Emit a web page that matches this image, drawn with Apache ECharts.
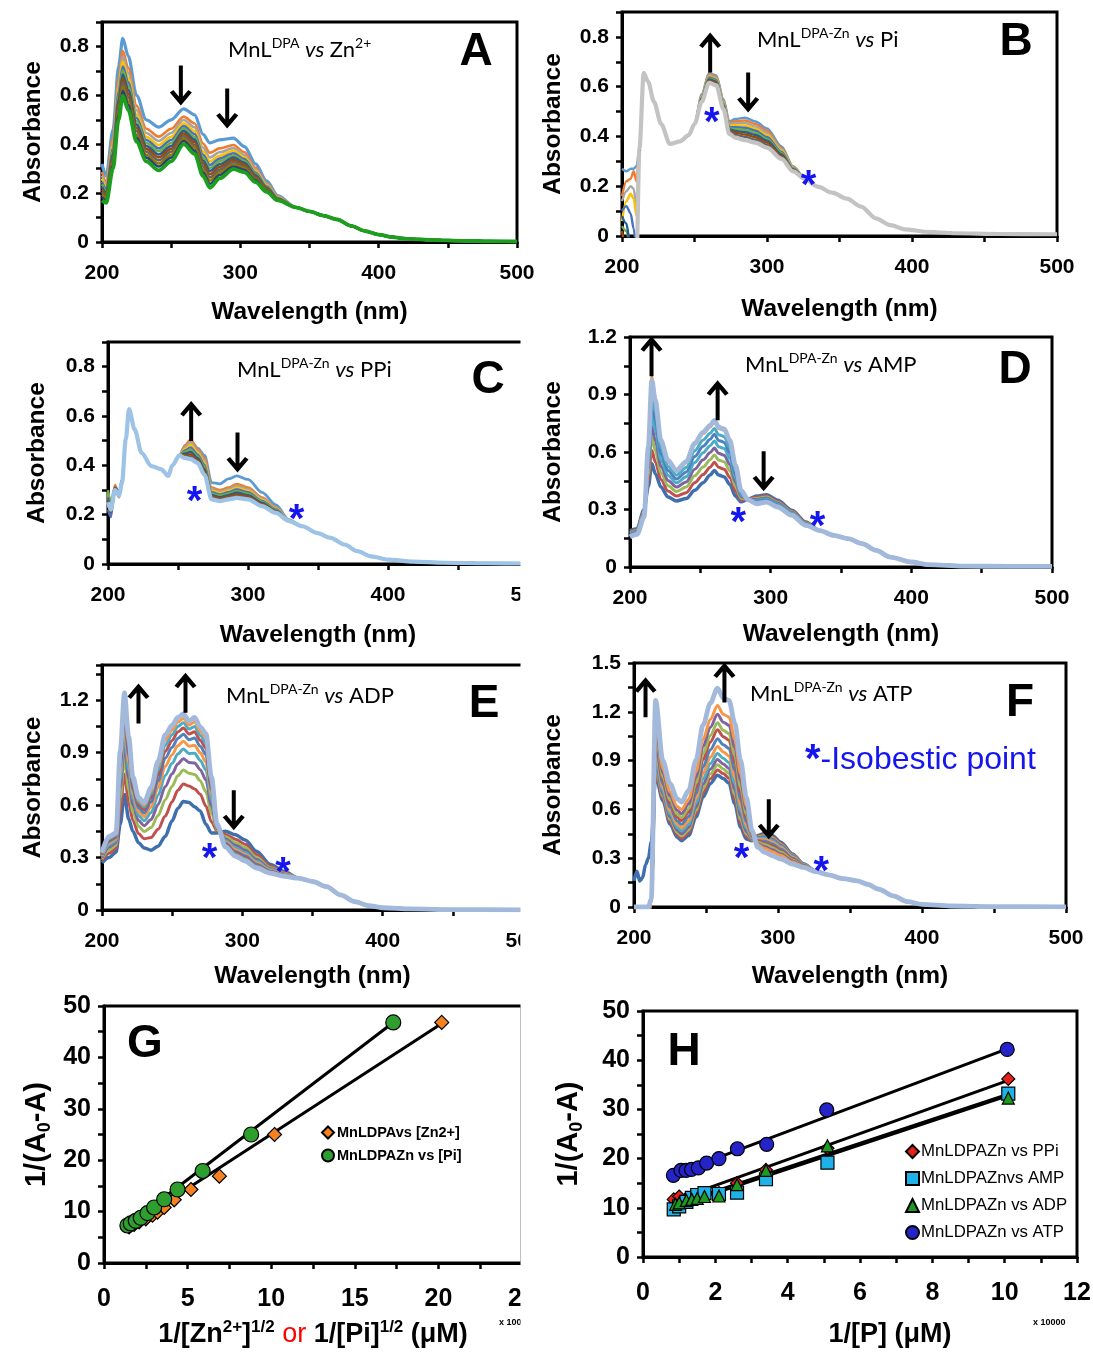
<!DOCTYPE html>
<html>
<head>
<meta charset="utf-8">
<script src="https://cdn.jsdelivr.net/npm/echarts@6/dist/echarts.min.js"></script>
<style>
  html, body { margin: 0; padding: 0; background: #fff; }
  #chart { width: 1093px; height: 1354px; }
</style>
</head>
<body>
<div id="chart"></div>
<script>
// ---------------------------------------------------------------
// UV-vis titration spectra (A-F) and double-reciprocal plots (G-H)
// ---------------------------------------------------------------

// ---- A: MnL(DPA) titrated with Zn2+ (12 spectra, first = top) ----
const A_WL = [200, 203, 208, 212, 215, 219, 225, 232, 241, 250, 259, 267, 273, 278, 285, 295, 303, 311, 319, 327];
const A_TAIL_WL = [340, 350, 360, 370, 380, 390, 400, 410, 420, 440, 460, 480, 500];
const A_TAIL = [0.142, 0.125, 0.108, 0.092, 0.066, 0.045, 0.030, 0.020, 0.013, 0.008, 0.005, 0.003, 0.002];
const A_01 = [.32, .27, .46, .72, .833, .76, .60, .50, .47, .50, .545, .52, .44, .405, .418, .425, .39, .32, .25, .19];
const A_02 = [.287, .246, .425, .672, .781, .712, .558, .463, .431, .463, .513, .485, .403, .365, .383, .397, .367, .304, .240, .186];
const A_03 = [.272, .235, .409, .650, .758, .690, .539, .446, .413, .446, .499, .469, .386, .346, .367, .384, .356, .296, .236, .184];
const A_04 = [.259, .225, .394, .630, .737, .670, .522, .430, .397, .430, .486, .454, .370, .330, .353, .373, .347, .289, .232, .182];
const A_05 = [.247, .216, .382, .612, .718, .652, .507, .417, .383, .417, .474, .442, .357, .315, .341, .363, .339, .283, .228, .180];
const A_06 = [.236, .208, .370, .597, .701, .637, .494, .405, .371, .405, .464, .430, .345, .303, .330, .354, .331, .278, .225, .179];
const A_07 = [.226, .201, .359, .581, .685, .621, .480, .393, .358, .393, .454, .419, .333, .290, .318, .345, .324, .273, .222, .177];
const A_08 = [.215, .193, .348, .566, .669, .606, .467, .381, .346, .381, .444, .408, .321, .277, .307, .336, .317, .268, .219, .176];
const A_09 = [.205, .185, .337, .551, .652, .591, .454, .369, .334, .369, .433, .397, .309, .264, .296, .327, .309, .262, .215, .175];
const A_10 = [.194, .178, .326, .535, .636, .575, .440, .357, .321, .357, .423, .386, .297, .251, .285, .318, .302, .257, .212, .173];
const A_11 = [.184, .170, .314, .520, .619, .560, .427, .345, .309, .345, .413, .374, .285, .238, .274, .309, .294, .252, .209, .172];
const A_12 = [.17, .16, .30, .50, .598, .54, .41, .33, .293, .33, .40, .36, .27, .222, .26, .298, .285, .245, .205, .17];
const A_SET = [A_01, A_02, A_03, A_04, A_05, A_06, A_07, A_08, A_09, A_10, A_11, A_12];

// ---- B: MnL(DPA-Zn) titrated with Pi (10 spectra) ----
const B_HEAD_WL = [200, 203, 206, 208, 210];
const B_MID_WL = [212, 215, 218, 222, 227, 233, 240, 246, 250];
const B_MID = [.35, .655, .62, .54, .45, .37, .38, .405, .45];
const B_VAR_WL = [255, 260, 265, 270, 274, 278, 285, 292, 300, 310, 318, 326];
const B_TAIL_WL = [335, 345, 355, 365, 375, 385, 395, 410, 430, 460, 500];
const B_TAIL = [.198, .174, .15, .118, .071, .044, .027, .017, .011, .008, .007];
const B_HEADS = [
  [.27, .26, .27, .27, .28], [.16, .22, .23, .26, .22], [.14, .18, .20, .19, .12],
  [.06, .14, .17, .15, .08], [.10, .12, .09, .03, -.05], [.04, .02, -.05, -.1, -.1],
  [.08, .05, -.05, -.1, -.1], [.02, -.05, -.1, -.1, -.1], [-.05, -.1, -.1, -.1, -.1],
  [-.1, -.1, -.1, -.1, -.1]
];
const B_VARS = [
  [.57, .655, .645, .55, .46, .47, .475, .46, .432, .36, .28, .232],
  [.566, .650, .640, .545, .454, .461, .464, .450, .423, .354, .278, .232],
  [.563, .646, .636, .541, .449, .453, .454, .440, .414, .349, .275, .232],
  [.560, .641, .631, .536, .443, .445, .444, .431, .406, .343, .273, .231],
  [.557, .637, .627, .532, .438, .437, .435, .423, .398, .338, .271, .231],
  [.554, .633, .623, .528, .433, .430, .426, .414, .390, .333, .269, .231],
  [.551, .629, .619, .524, .428, .422, .417, .406, .383, .328, .267, .231],
  [.548, .625, .615, .520, .423, .415, .408, .397, .375, .323, .265, .231],
  [.544, .621, .611, .516, .417, .406, .398, .387, .366, .317, .263, .230],
  [.54, .615, .605, .51, .41, .395, .385, .375, .355, .31, .26, .23]
];

// ---- C: MnL(DPA-Zn) titrated with PPi (10 spectra) ----
const C_HEAD_WL = [200, 202, 205, 208, 210];
const C_MID_WL = [212.7, 215, 219, 224, 231, 238, 243, 246, 251];
const C_MID = [.505, .628, .546, .45, .397, .384, .357, .40, .44];
const C_VAR_WL = [255, 259, 264, 269, 274, 280, 286, 292, 300, 310, 320, 329];
const C_TAIL_WL = [339, 349, 359, 369, 378, 388, 400, 418, 440, 470, 500];
const C_TAIL = [.153, .126, .106, .079, .052, .031, .018, .0095, .005, .003, .002];
const C_HEADS = [
  [.29, .25, .31, .29, .33], [.27, .23, .32, .28, .34], [.28, .24, .30, .27, .33],
  [.25, .21, .30, .28, .34], [.22, .19, .31, .29, .34], [.30, .24, .31, .28, .33],
  [.26, .22, .30, .29, .34], [.24, .21, .29, .28, .33], [.27, .23, .31, .29, .34],
  [.25, .22, .30, .28, .33]
];
const C_VARS = [
  [.48, .50, .47, .44, .33, .325, .345, .357, .343, .29, .24, .18],
  [.48, .505, .465, .43, .31, .30, .31, .325, .31, .27, .23, .178],
  [.473, .493, .457, .42, .303, .293, .303, .316, .303, .265, .227, .178],
  [.466, .483, .45, .41, .297, .287, .297, .309, .297, .26, .224, .177],
  [.46, .473, .443, .402, .291, .282, .291, .302, .291, .256, .221, .177],
  [.454, .463, .436, .394, .285, .277, .285, .295, .285, .252, .218, .176],
  [.448, .454, .43, .385, .279, .271, .279, .289, .279, .248, .215, .176],
  [.442, .444, .423, .377, .274, .266, .274, .282, .274, .243, .213, .176],
  [.436, .435, .417, .368, .268, .260, .268, .275, .268, .239, .210, .175],
  [.43, .425, .41, .36, .262, .255, .262, .268, .262, .235, .207, .175]
];

// ---- D: MnL(DPA-Zn) titrated with AMP (9 spectra, first = lowest at 260 nm) ----
const D_WL = [200, 205, 210, 213, 215.5, 218, 222, 227, 233, 240, 246, 252, 257, 260, 263, 267, 271, 275, 279, 284, 290, 297, 305, 315, 325];
const D_TAIL_WL = [335, 345, 355, 365, 375, 385, 400, 412, 437, 470, 500];
const D_TAIL = [.19, .165, .148, .122, .087, .052, .026, .012, .005, .003, .003];
const D_1 = [.19, .20, .30, .42, .54, .487, .417, .365, .345, .357, .40, .44, .48, .504, .48, .47, .43, .37, .34, .355, .37, .377, .348, .296, .235];
const D_2 = [.185, .195, .294, .453, .609, .548, .456, .396, .37, .388, .439, .482, .521, .546, .52, .51, .467, .396, .35, .354, .364, .371, .342, .292, .232];
const D_3 = [.18, .191, .288, .484, .675, .606, .492, .424, .394, .417, .476, .522, .56, .585, .558, .548, .501, .42, .359, .353, .358, .365, .337, .288, .229];
const D_4 = [.175, .186, .282, .513, .735, .659, .526, .451, .417, .444, .51, .559, .597, .621, .593, .583, .534, .442, .367, .353, .352, .36, .332, .284, .227];
const D_5 = [.171, .182, .276, .542, .796, .713, .56, .478, .439, .471, .545, .596, .633, .658, .628, .618, .566, .464, .375, .352, .346, .355, .327, .281, .224];
const D_6 = [.166, .178, .271, .568, .852, .763, .592, .503, .459, .496, .576, .63, .666, .692, .66, .65, .596, .485, .383, .351, .341, .35, .323, .277, .222];
const D_7 = [.162, .175, .266, .593, .905, .809, .621, .525, .479, .519, .606, .662, .698, .723, .69, .68, .623, .504, .39, .351, .336, .345, .319, .274, .22];
const D_8 = [.158, .171, .261, .62, .99, .859, .653, .55, .499, .544, .638, .696, .731, .757, .723, .713, .653, .525, .398, .35, .331, .34, .314, .271, .218];
const D_9 = [.157, .17, .26, .626, .974, .87, .66, .556, .504, .55, .645, .704, .739, .765, .73, .72, .66, .53, .40, .35, .33, .339, .313, .27, .217];
const D_SET = [D_1, D_2, D_3, D_4, D_5, D_6, D_7, D_8, D_9];

// ---- E: MnL(DPA-Zn) titrated with ADP (11 spectra) ----
const E_WL = [200, 205, 210, 213, 216, 219, 222, 226, 230, 235, 240, 245, 250, 254, 258, 262, 266, 270, 274, 278, 282, 288, 295, 302, 310, 320, 330];
const E_TAIL_WL = [340, 350, 360, 370, 380, 390, 400, 420, 450, 500];
const E_TAIL = [.182, .163, .134, .086, .048, .025, .013, .006, .002, .001];
const E_1 = [.27, .30, .33, .49, .66, .52, .45, .385, .355, .342, .365, .42, .51, .58, .62, .615, .59, .566, .49, .44, .44, .45, .43, .40, .336, .26, .22];
const E_2 = [.282, .324, .352, .574, .776, .614, .512, .437, .407, .414, .462, .536, .619, .684, .72, .708, .692, .662, .594, .504, .45, .432, .405, .376, .317, .25, .214];
const E_3 = [.292, .343, .37, .641, .869, .689, .562, .478, .448, .471, .54, .629, .707, .767, .80, .782, .774, .739, .676, .555, .458, .418, .386, .357, .301, .242, .21];
const E_4 = [.299, .359, .384, .696, .944, .75, .602, .511, .482, .517, .603, .704, .778, .835, .865, .843, .84, .802, .744, .597, .465, .406, .37, .341, .289, .236, .206];
const E_5 = [.306, .372, .396, .742, 1.008, .802, .636, .54, .51, .557, .656, .768, .838, .892, .92, .894, .896, .855, .801, .632, .47, .396, .356, .328, .278, .231, .203];
const E_6 = [.311, .383, .406, .78, 1.06, .844, .664, .563, .534, .589, .70, .82, .887, .939, .965, .936, .942, .898, .847, .661, .475, .388, .345, .317, .27, .226, .201];
const E_7 = [.316, .392, .415, .813, 1.107, .882, .689, .584, .554, .618, .738, .867, .93, .98, 1.005, .973, .983, .936, .889, .686, .479, .381, .335, .308, .262, .222, .198];
const E_8 = [.32, .401, .422, .843, 1.147, .915, .71, .602, .573, .643, .772, .907, .969, 1.017, 1.04, 1.006, 1.018, .97, .925, .709, .482, .374, .327, .299, .255, .219, .196];
const E_9 = [.324, .408, .429, .868, 1.182, .943, .729, .617, .588, .664, .802, .942, 1.001, 1.048, 1.07, 1.034, 1.049, .999, .956, .728, .485, .369, .319, .292, .25, .216, .195];
const E_10 = [.327, .414, .435, .889, 1.211, .967, .745, .63, .601, .682, .826, .971, 1.029, 1.074, 1.095, 1.057, 1.075, 1.023, .982, .744, .488, .364, .313, .286, .245, .213, .193];
const E_11 = [.33, .42, .44, .91, 1.24, .99, .76, .643, .614, .70, .85, 1.0, 1.056, 1.10, 1.12, 1.08, 1.10, 1.047, 1.008, .76, .49, .36, .307, .28, .24, .211, .192];
const E_SET = [E_1, E_2, E_3, E_4, E_5, E_6, E_7, E_8, E_9, E_10, E_11];

// ---- F: MnL(DPA-Zn) titrated with ATP (12 spectra) ----
const F_HEAD_WL = [200, 202, 204, 206, 208, 210, 212];
const F_HEAD_FIRST = [.16, .22, .16, .18, .26, .30, .40];
const F_HEAD_REST = [-.05, -.05, -.05, -.05, -.05, -.05, .05];
const F_HEAD_LAST = [0, 0, 0, 0, 0, 0, .05];
const F_WL = [215, 220, 225, 230, 233, 238, 243, 248, 253, 258, 262, 266, 270, 274, 278, 282, 286, 291, 296, 302, 310, 318, 326];
const F_TAIL_WL = [335, 345, 355, 362, 370, 380, 390, 400, 420, 450, 500];
const F_TAIL = [.198, .175, .161, .14, .109, .068, .033, .016, .006, .002, .001];
const F_1 = [.81, .655, .51, .43, .408, .44, .552, .676, .758, .81, .79, .76, .635, .49, .418, .408, .44, .453, .439, .398, .326, .264, .222];
const F_2 = [.838, .67, .525, .444, .422, .457, .573, .703, .788, .842, .82, .791, .665, .515, .433, .412, .436, .446, .432, .392, .322, .263, .222];
const F_3 = [.865, .684, .54, .458, .436, .473, .594, .729, .817, .874, .849, .821, .694, .539, .449, .415, .431, .439, .424, .386, .319, .261, .222];
const F_4 = [.893, .699, .555, .472, .451, .49, .615, .756, .847, .906, .879, .852, .724, .564, .464, .419, .427, .432, .417, .379, .315, .26, .221];
const F_5 = [.925, .716, .572, .489, .467, .509, .64, .787, .882, .944, .914, .888, .759, .593, .483, .424, .422, .424, .408, .372, .31, .259, .221];
const F_6 = [.962, .736, .592, .508, .486, .531, .668, .822, .921, .987, .953, .928, .798, .626, .503, .428, .416, .414, .398, .364, .306, .257, .221];
const F_7 = [1.003, .758, .614, .529, .508, .556, .699, .862, .966, 1.035, .997, .974, .843, .663, .526, .434, .409, .404, .387, .355, .30, .255, .22];
const F_8 = [1.049, .782, .639, .552, .531, .584, .734, .906, 1.015, 1.089, 1.047, 1.025, .892, .704, .552, .44, .402, .392, .375, .344, .294, .253, .22];
const F_9 = [1.086, .802, .659, .571, .55, .606, .762, .942, 1.055, 1.132, 1.086, 1.066, .932, .737, .573, .445, .396, .383, .365, .336, .289, .251, .22];
const F_10 = [1.132, .827, .684, .595, .574, .634, .797, .986, 1.105, 1.185, 1.136, 1.117, .982, .778, .599, .451, .389, .371, .352, .326, .283, .249, .219];
const F_11 = [1.178, .851, .708, .618, .598, .662, .832, 1.03, 1.154, 1.239, 1.185, 1.168, 1.031, .82, .624, .458, .382, .359, .34, .316, .276, .247, .219];
const F_12 = [1.27, .90, .758, .665, .645, .717, .902, 1.119, 1.253, 1.346, 1.284, 1.27, 1.13, .902, .676, .47, .367, .336, .315, .295, .264, .243, .218];
const F_SET = [F_1, F_2, F_3, F_4, F_5, F_6, F_7, F_8, F_9, F_10, F_11, F_12];

// ---- G: 1/(A0-A) vs 1/[X]^1/2 ----
const G_ZN = [[1.5, 7.0], [1.8, 7.5], [2.1, 8.0], [2.5, 8.6], [2.9, 9.3], [3.2, 9.9], [3.6, 10.8], [4.2, 12.3], [5.2, 14.3], [6.9, 16.9], [10.2, 25.0], [20.2, 46.8]];
const G_PI = [[1.4, 7.3], [1.6, 7.7], [1.9, 8.2], [2.2, 8.8], [2.6, 9.7], [3.0, 10.8], [3.6, 12.4], [4.4, 14.3], [5.9, 17.9], [8.8, 25.0], [17.3, 46.8]];
const G_ZN_FIT = [[1.5, 7.1], [20.2, 46.6]];
const G_PI_FIT = [[1.4, 7.3], [17.3, 46.8]];

// ---- H: 1/(A0-A) vs 1/[P] ----
const H_PPI = [[0.85, 11.7], [1.0, 12.3], [1.2, 11.9], [1.35, 12.2], [1.5, 12.4], [1.7, 12.9], [2.1, 13.0], [2.6, 15.0], [3.4, 17.7], [5.1, 22.1], [10.1, 36.2]];
const H_AMP = [[0.85, 9.7], [1.0, 10.3], [1.2, 11.2], [1.35, 12.0], [1.5, 12.6], [1.7, 13.0], [2.1, 12.8], [2.6, 13.1], [3.4, 15.8], [5.1, 19.2], [10.1, 33.2]];
const H_ADP = [[0.9, 10.7], [1.0, 11.0], [1.2, 11.5], [1.35, 11.7], [1.5, 11.9], [1.7, 12.3], [2.1, 12.4], [2.6, 14.7], [3.4, 17.6], [5.1, 22.6], [10.1, 32.3]];
const H_ATP = [[0.84, 16.6], [1.05, 17.6], [1.19, 17.6], [1.34, 17.8], [1.53, 18.1], [1.76, 19.1], [2.1, 20.0], [2.61, 22.0], [3.42, 22.9], [5.08, 29.9], [10.07, 42.2]];
const H_PPI_FIT = [[0.85, 11.5], [10.1, 35.9]];
const H_AMP_FIT = [[0.85, 10.2], [10.1, 32.8]];
const H_ADP_FIT = [[0.85, 10.6], [10.1, 33.1]];
const H_ATP_FIT = [[0.84, 16.8], [10.07, 42.3]];

// ---- axis ticks ----
const WL_RANGE = [200, 500, 100];
const Y_SPECS = [[0.9, 0.2], [0.9, 0.2], [0.9, 0.2], [1.2, 0.3], [1.4, 0.3], [1.5, 0.3], [50, 10], [50, 10]];
const G_X = [0, 25, 5];
const H_X = [0, 12, 2];

// ---- annotations: [wavelength, absorbance, direction] and isosbestic marks ----
const A_ARROWS = [[257, 0.64, 'down'], [290.5, 0.546, 'down']];
const B_ARROWS = [[260.8, 0.737, 'up'], [287, 0.577, 'down']];
const C_ARROWS = [[259.4, 0.58, 'up'], [292.5, 0.452, 'down']];
const D_ARROWS = [[215.3, 1.10, 'up'], [262.3, 0.87, 'up'], [295, 0.50, 'down']];
const E_ARROWS = [[226, 1.18, 'up'], [259.5, 1.242, 'up'], [293.9, 0.57, 'down']];
const F_ARROWS = [[208, 1.29, 'up'], [262.8, 1.38, 'up'], [293.6, 0.54, 'down']];
const B_STARS = [[262, 0.486], [328.7, 0.234]];
const C_STARS = [[261.8, 0.282], [334.7, 0.21]];
const D_STARS = [[276.9, 0.27], [333.4, 0.252]];
const E_STARS = [[276.7, 0.336], [329, 0.259]];
const F_STARS = [[274.6, 0.346], [330, 0.264]];

// ---------------------------------------------------------------
const FONT = '"Liberation Sans", Arial, Helvetica, sans-serif';
const TFONT = 'Lato, "Open Sans", sans-serif';
const STAR_BLUE = '#1515F0';
const ARROW = 'path://M11,0 L22,13 L18.5,15.5 L13,9 L13,40 L9,40 L9,9 L3.5,15.5 L0,13 Z';

const PAL13 = ['#5B9BD5', '#ED7D31', '#A5A5A5', '#FFC000', '#4472C4', '#70AD47', '#255E91', '#9E480E', '#636363', '#997300', '#264478', '#43682B'];

const LAYOUT = [
  { left: 102, top: 22, width: 415, height: 220 },
  { left: 622, top: 12, width: 435, height: 224 },
  { left: 108, top: 342, width: 420, height: 222 },
  { left: 630, top: 337, width: 422, height: 230 },
  { left: 102, top: 665, width: 421, height: 245 },
  { left: 634, top: 663, width: 432, height: 244 },
  { left: 104, top: 1006, width: 418, height: 257 },
  { left: 643, top: 1011, width: 434, height: 246 }
];
const Y_NAME_GAP = [56, 56, 58, 64, 56, 68, 50, 57];
const X_NAME_GAP = [58, 61, 59, 55, 54, 57, 56, 62];

function join(wlParts, valParts) {
  const out = [];
  wlParts.forEach((wl, i) => wl.forEach((w, j) => out.push([w, valParts[i][j]])));
  return out;
}

const NAME_RICH = {
  sub: { fontFamily: FONT, fontWeight: 'bold', fontSize: 18, color: '#000', verticalAlign: 'bottom', lineHeight: 34 },
  sup: { fontFamily: FONT, fontWeight: 'bold', fontSize: 17, color: '#000', verticalAlign: 'top', lineHeight: 17 },
  b: { fontFamily: FONT, fontWeight: 'bold', fontSize: 27, color: '#000', lineHeight: 32 },
  y: { fontFamily: FONT, fontWeight: 'bold', fontSize: 29, color: '#000', lineHeight: 34 },
  or: { fontFamily: FONT, fontWeight: 'normal', fontSize: 27, color: '#FF0000', lineHeight: 32 }
};

const grids = LAYOUT.map(l => Object.assign({ show: true, borderColor: '#000', borderWidth: 3, outerBoundsMode: 'none', containLabel: false }, l));

function axisCommon(fs) {
  return {
    type: 'value',
    axisLine: { show: true, onZero: false, lineStyle: { color: '#000', width: 3 } },
    axisTick: { show: true, inside: false, length: 6, lineStyle: { color: '#000', width: 2.5 } },
    minorTick: { show: true, splitNumber: 2, length: 6, lineStyle: { color: '#000', width: 2.5 } },
    splitLine: { show: false },
    minorSplitLine: { show: false },
    axisLabel: { fontFamily: FONT, fontWeight: 'bold', fontSize: fs, color: '#000' },
    nameLocation: 'middle',
    nameTextStyle: { fontFamily: FONT, fontWeight: 'bold', fontSize: 24.5, color: '#000', rich: NAME_RICH }
  };
}

const xAxes = [];
const yAxes = [];
for (let i = 0; i < 8; i++) {
  const spectra = i < 6;
  const xr = spectra ? WL_RANGE : (i === 6 ? G_X : H_X);
  const fs = spectra ? 21 : 25;
  const xa = Object.assign(axisCommon(fs), {
    gridIndex: i, min: xr[0], max: xr[1], interval: xr[2], nameGap: X_NAME_GAP[i]
  });
  xa.axisLabel.margin = spectra ? 21 : 24;
  if (spectra) xa.name = 'Wavelength (nm)';
  else if (i === 6) xa.name = '{b|1/[Zn}{sup|2+}{b|]}{sup|1/2}{b| }{or|or}{b| 1/[Pi]}{sup|1/2}{b| (μM)}';
  else {
    xa.name = '{b|1/[P] (μM)}';
    xa.nameTextStyle.padding = [0, 0, 0, 60];
  }
  xAxes.push(xa);

  const ys = Y_SPECS[i];
  const ya = Object.assign(axisCommon(fs), {
    gridIndex: i, min: 0, max: ys[0], interval: ys[1], nameGap: Y_NAME_GAP[i]
  });
  ya.axisLabel.margin = 13;
  ya.axisLabel.showMaxLabel = (ys[0] / ys[1]) % 1 === 0;
  if (spectra) {
    ya.name = 'Absorbance';
    ya.axisLabel.formatter = v => (v === 0 ? '0' : v.toFixed(1));
  } else {
    ya.name = '{y|1/(A}{sub|0}{y|-A)}';
  }
  yAxes.push(ya);
}

const series = [];

function markFor(arrows, stars) {
  const data = [];
  arrows.forEach(a => data.push({
    coord: [a[0], a[1]], symbol: ARROW, symbolSize: [22, 40],
    symbolRotate: a[2] === 'down' ? 180 : 0, itemStyle: { color: '#000' }, label: { show: false }
  }));
  stars.forEach(s => data.push({
    coord: [s[0], s[1]], symbol: 'circle', symbolSize: 2, itemStyle: { color: 'rgba(0,0,0,0)' },
    label: { show: true, formatter: '*', position: 'inside', offset: [0, 9], color: STAR_BLUE, fontFamily: FONT, fontWeight: 'bold', fontSize: 40 }
  }));
  return { silent: true, animation: false, data };
}

function addSpectra(idx, curves, colors, widths, arrows, stars) {
  curves.forEach((data, k) => {
    const s = {
      type: 'line', name: 'S' + idx + '-' + k, xAxisIndex: idx, yAxisIndex: idx, data,
      showSymbol: false, symbol: 'none', smooth: 0.3, smoothMonotone: 'x', silent: true,
      lineStyle: { color: colors[k], width: widths[k] }, z: 2
    };
    if (k === curves.length - 1) s.markPoint = markFor(arrows, stars);
    series.push(s);
  });
}

// A
addSpectra(0,
  A_SET.map(v => join([A_WL, A_TAIL_WL], [v, A_TAIL])),
  PAL13.slice(0, 11).concat(['#1E9E1E']),
  [3.2, 2.6, 2.6, 2.6, 2.6, 2.6, 2.6, 2.6, 2.6, 2.6, 2.6, 3.8],
  A_ARROWS, []);
// B
addSpectra(1,
  B_VARS.map((v, k) => join([B_HEAD_WL, B_MID_WL, B_VAR_WL, B_TAIL_WL], [B_HEADS[k], B_MID, v, B_TAIL])),
  PAL13.slice(0, 9).concat(['#C3C3C3']),
  [2.4, 2.4, 2.4, 2.4, 2.4, 2.4, 2.4, 2.4, 2.4, 4.2],
  B_ARROWS, B_STARS);
// C
addSpectra(2,
  C_VARS.map((v, k) => join([C_HEAD_WL, C_MID_WL, C_VAR_WL, C_TAIL_WL], [C_HEADS[k], C_MID, v, C_TAIL])),
  PAL13.slice(0, 9).concat(['#9DC3E6']),
  [2.8, 2.4, 2.4, 2.4, 2.4, 2.4, 2.4, 2.4, 2.4, 4.2],
  C_ARROWS, C_STARS);
// D
addSpectra(3,
  D_SET.map(v => join([D_WL, D_TAIL_WL], [v, D_TAIL])),
  ['#3F70AE', '#C0504D', '#9BBB59', '#8064A2', '#4BACC6', '#4F81BD', '#4BACC6', '#F79646', '#A3B9DC'],
  [3.5, 3, 3, 3, 3, 3, 3, 3, 4.8],
  D_ARROWS, D_STARS);
// E
addSpectra(4,
  E_SET.map(v => join([E_WL, E_TAIL_WL], [v, E_TAIL])),
  ['#3F70AE', '#C0504D', '#9BBB59', '#8064A2', '#4BACC6', '#F79646', '#4F81BD', '#C0504D', '#4BACC6', '#F79646', '#A3B9DC'],
  [3.5, 3, 3, 3, 3, 3, 3, 3, 3, 3, 4.8],
  E_ARROWS, E_STARS);
// F
addSpectra(5,
  F_SET.map((v, k) => join([F_HEAD_WL, F_WL, F_TAIL_WL],
    [k === 0 ? F_HEAD_FIRST : (k === F_SET.length - 1 ? F_HEAD_LAST : F_HEAD_REST), v, F_TAIL])),
  ['#3F70AE', '#C0504D', '#9BBB59', '#8064A2', '#4BACC6', '#F79646', '#4F81BD', '#C0504D', '#9BBB59', '#8064A2', '#F79646', '#A3B9DC'],
  [3.5, 3, 3, 3, 3, 3, 3, 3, 3, 3, 3, 4.8],
  F_ARROWS, F_STARS);

// G / H fitted lines and points
function fitLine(idx, data) {
  series.push({ type: 'line', name: 'fit', xAxisIndex: idx, yAxisIndex: idx, data, showSymbol: false, symbol: 'none',
    silent: true, lineStyle: { color: '#000', width: 3 }, z: 3 });
}
function points(idx, name, data, symbol, size, color) {
  series.push({ type: 'scatter', name, xAxisIndex: idx, yAxisIndex: idx, data, symbol, symbolSize: size,
    silent: true, itemStyle: { color, borderColor: '#000', borderWidth: 1.2, opacity: 1 }, z: 4 });
}
fitLine(6, G_ZN_FIT);
fitLine(6, G_PI_FIT);
points(6, 'MnLDPAvs [Zn2+]', G_ZN, 'diamond', 14, '#F58220');
points(6, 'MnLDPAZn vs [Pi]', G_PI, 'circle', 15, '#2E9E2E');

fitLine(7, H_AMP_FIT);
fitLine(7, H_ADP_FIT);
fitLine(7, H_PPI_FIT);
fitLine(7, H_ATP_FIT);
points(7, 'MnLDPAZn vs PPi', H_PPI, 'diamond', 13, '#E8201A');
points(7, 'MnLDPAZnvs AMP', H_AMP, 'rect', 13, '#1EB2E8');
points(7, 'MnLDPAZn vs ADP', H_ADP, 'triangle', 12, '#1E9A1E');
points(7, 'MnLDPAZn vs ATP', H_ATP, 'circle', 14, '#2424C8');

// panel titles
const TITLE_RICH = {
  m: { fontFamily: TFONT, fontWeight: 'normal', fontSize: 22, color: '#000', lineHeight: 27 },
  i: { fontFamily: TFONT, fontWeight: 'normal', fontSize: 22, fontStyle: 'italic', color: '#000', lineHeight: 27 },
  s: { fontFamily: TFONT, fontWeight: 'normal', fontSize: 14, color: '#000', verticalAlign: 'top', lineHeight: 14 }
};
const titles = [
  [228, 36, '{m|MnL}{s|DPA}{m| }{i|vs}{m| Zn}{s|2+}'],
  [757, 26, '{m|MnL}{s|DPA-Zn}{m| }{i|vs}{m| Pi}'],
  [237, 356, '{m|MnL}{s|DPA-Zn}{m| }{i|vs}{m| PPi}'],
  [745, 351, '{m|MnL}{s|DPA-Zn}{m| }{i|vs}{m| AMP}'],
  [226, 682, '{m|MnL}{s|DPA-Zn}{m| }{i|vs}{m| ADP}'],
  [750, 680, '{m|MnL}{s|DPA-Zn}{m| }{i|vs}{m| ATP}']
].map(t => ({ left: t[0], top: t[1], text: t[2], padding: 0, textStyle: { fontWeight: 'normal', rich: TITLE_RICH } }));

const LETTERS = [['A', 476, 52], ['B', 1016, 42], ['C', 488, 380], ['D', 1015, 370], ['E', 484, 704], ['F', 1020, 703], ['G', 145, 1044], ['H', 684, 1052]];
const graphic = LETTERS.map(([t, x, y]) => ({
  type: 'text', x, y, z: 50,
  style: { text: t, font: 'bold 46px "Liberation Sans", Arial', fill: '#000', align: 'center', verticalAlign: 'middle' }
}));
graphic.push({ type: 'text', x: 499, y: 1318, z: 50, style: { text: 'x 10000', font: 'bold 9px "Liberation Sans", Arial', fill: '#000' } });
graphic.push({ type: 'text', x: 1033, y: 1318, z: 50, style: { text: 'x 10000', font: 'bold 9px "Liberation Sans", Arial', fill: '#000' } });
graphic.push({
  type: 'text', x: 805, y: 741, z: 50,
  style: {
    text: '{a|*}{b|-Isobestic point}',
    rich: {
      a: { fontFamily: FONT, fontWeight: 'bold', fontSize: 40, fill: STAR_BLUE, color: STAR_BLUE, verticalAlign: 'top', lineHeight: 38 },
      b: { fontFamily: FONT, fontSize: 32, fill: STAR_BLUE, color: STAR_BLUE, lineHeight: 38 }
    }
  }
});
// the left column is cut at its right edge below the first row
graphic.push({ type: 'rect', z: 100, shape: { x: 520.5, y: 318, width: 18, height: 1036 }, style: { fill: '#fff' } });
graphic.push({ type: 'rect', z: 100, shape: { x: 520.5, y: 572, width: 27, height: 32 }, style: { fill: '#fff' } });
graphic.push({ type: 'rect', z: 100, shape: { x: 520.5, y: 918, width: 27, height: 32 }, style: { fill: '#fff' } });

const legends = [
  {
    left: 321, top: 1125, orient: 'vertical', itemGap: 8, itemWidth: 12, itemHeight: 12, padding: 0, selectedMode: false,
    textStyle: { fontFamily: FONT, fontWeight: 'bold', fontSize: 14.5, color: '#000', padding: [0, 0, 0, -2] },
    data: ['MnLDPAvs [Zn2+]', 'MnLDPAZn vs [Pi]']
  },
  {
    left: 905, top: 1143, orient: 'vertical', itemGap: 10, itemWidth: 13, itemHeight: 13, padding: 0, selectedMode: false,
    textStyle: { fontFamily: FONT, fontSize: 16.8, color: '#000', padding: [0, 0, 0, -3] },
    data: ['MnLDPAZn vs PPi', 'MnLDPAZnvs AMP', 'MnLDPAZn vs ADP', 'MnLDPAZn vs ATP']
  }
];

const chart = echarts.init(document.getElementById('chart'), null, { renderer: 'canvas' });
chart.setOption({
  animation: false,
  backgroundColor: '#fff',
  title: titles,
  legend: legends,
  grid: grids,
  xAxis: xAxes,
  yAxis: yAxes,
  series,
  graphic
});
</script>
</body>
</html>
